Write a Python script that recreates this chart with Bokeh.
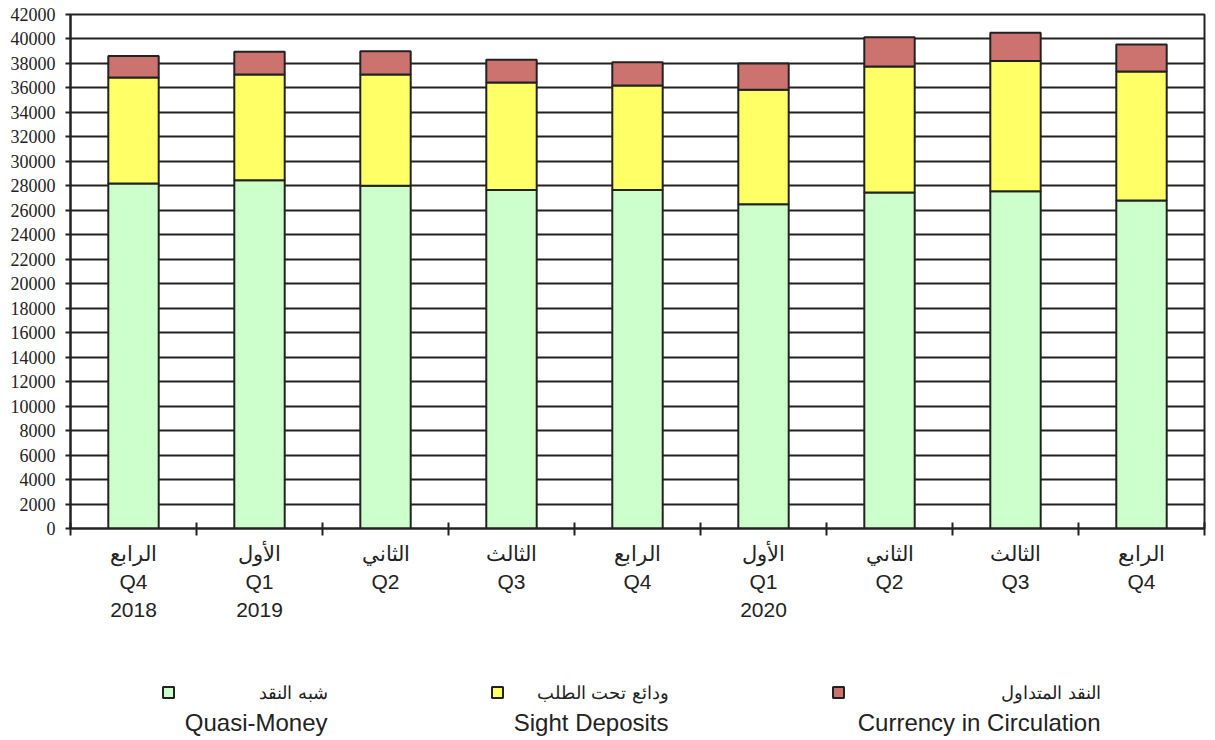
from bokeh.plotting import figure
from bokeh.models import ColumnDataSource, Range1d, FixedTicker
from bokeh.layouts import column
from bokeh.embed import file_html
from bokeh.resources import INLINE
from bokeh.core.properties import value

# ---------------- data ----------------
quarter_ar = ["الرابع", "الأول", "الثاني", "الثالث", "الرابع", "الأول", "الثاني", "الثالث", "الرابع"]
quarter_en = ["Q4", "Q1", "Q2", "Q3", "Q4", "Q1", "Q2", "Q3", "Q4"]
year = ["2018", "2019", "", "", "", "2020", "", "", ""]

quasi_money = [28200, 28450, 28000, 27650, 27650, 26500, 27450, 27550, 26800]
sight_deposits = [8650, 8650, 9100, 8800, 8550, 9350, 10300, 10650, 10550]
currency = [1750, 1850, 1900, 1850, 1900, 2150, 2400, 2300, 2200]

series_ar = ["شبه النقد", "ودائع تحت الطلب", "النقد المتداول"]
series_en = ["Quasi-Money", "Sight Deposits", "Currency in Circulation"]
colors = ["#CCFFCC", "#FFFF66", "#CC7370"]

y_ticks = list(range(0, 42001, 2000))

SERIF = "'Liberation Serif', 'Times New Roman', serif"
SANS = "'Liberation Sans', Arial, sans-serif"

# ---------------- main chart ----------------
n = len(quarter_en)
xs = [i + 0.5 for i in range(n)]
source = ColumnDataSource(dict(x=xs, quasi=quasi_money, sight=sight_deposits, curr=currency))

p = figure(width=1208, height=668, output_backend="svg", toolbar_location=None,
           x_range=Range1d(0, n), y_range=Range1d(0, 42000),
           min_border_left=70, min_border_right=4, min_border_top=14, min_border_bottom=140)

p.vbar_stack(["quasi", "sight", "curr"], x="x", width=0.4, color=colors,
             line_color="#222222", line_width=2, source=source)

p.outline_line_color = "#222222"
p.outline_line_width = 2
p.xgrid.visible = False
p.ygrid.grid_line_color = "#222222"
p.ygrid.grid_line_width = 2
p.ygrid.level = "underlay"

# y axis
p.yaxis.ticker = FixedTicker(ticks=y_ticks)
p.yaxis.major_tick_out = 5
p.yaxis.major_tick_in = 0
p.yaxis.minor_tick_out = 0
p.yaxis.minor_tick_in = 0
p.yaxis.axis_line_color = "#222222"
p.yaxis.axis_line_width = 2
p.yaxis.major_tick_line_color = "#222222"
p.yaxis.major_tick_line_width = 2
p.yaxis.major_label_text_font = SERIF
p.yaxis.major_label_text_font_size = "18px"
p.yaxis.major_label_text_color = "#222222"
p.yaxis.major_label_standoff = 10

# x axis: labels at centers, tick marks at boundaries (minor ticks)
labels = {}
for i in range(n):
    parts = [quarter_ar[i], quarter_en[i]]
    if year[i]:
        parts.append(year[i])
    labels[xs[i]] = "\n".join(parts)
p.xaxis.ticker = FixedTicker(ticks=xs, minor_ticks=list(range(0, n + 1)))
p.xaxis.major_label_overrides = labels
p.xaxis.major_tick_out = 0
p.xaxis.major_tick_in = 0
p.xaxis.minor_tick_out = 7
p.xaxis.minor_tick_in = 6
p.xaxis.minor_tick_line_color = "#222222"
p.xaxis.minor_tick_line_width = 2
p.xaxis.axis_line_color = "#222222"
p.xaxis.axis_line_width = 2
p.xaxis.major_label_text_font = SANS
p.xaxis.major_label_text_font_size = "21px"
p.xaxis.major_label_text_color = "#222222"
p.xaxis.major_label_text_line_height = 1.22
p.xaxis.major_label_standoff = 6

# ---------------- legend panel (pixel-like coordinates, aligned with main frame) ----------------
lg = figure(width=1208, height=70, output_backend="svg", toolbar_location=None,
            x_range=Range1d(70, 1204), y_range=Range1d(0, 70),
            min_border=0, outline_line_color=None)
lg.axis.visible = False
lg.grid.visible = False

leg_src = ColumnDataSource(dict(
    sq_x=[168, 497, 838], sq_y=[46, 46, 46],
    tx=[327, 668, 1100], ar_y=[46, 46, 46], en_y=[16, 16, 16],
    ar=series_ar, en=series_en, c=colors))
lg.rect(x="sq_x", y="sq_y", width=11, height=11, width_units="screen", height_units="screen",
        fill_color="c", line_color="#222222", line_width=2, source=leg_src)
lg.text(x="tx", y="ar_y", text="ar", text_align="right", text_baseline="middle",
        text_font=value(SANS), text_font_size="18px", text_color="#222222", source=leg_src)
lg.text(x="tx", y="en_y", text="en", text_align="right", text_baseline="middle",
        text_font=value(SANS), text_font_size="24px", text_color="#222222", source=leg_src)

layout = column(p, lg, spacing=0)
open("out.html", "w").write(file_html(layout, INLINE))
